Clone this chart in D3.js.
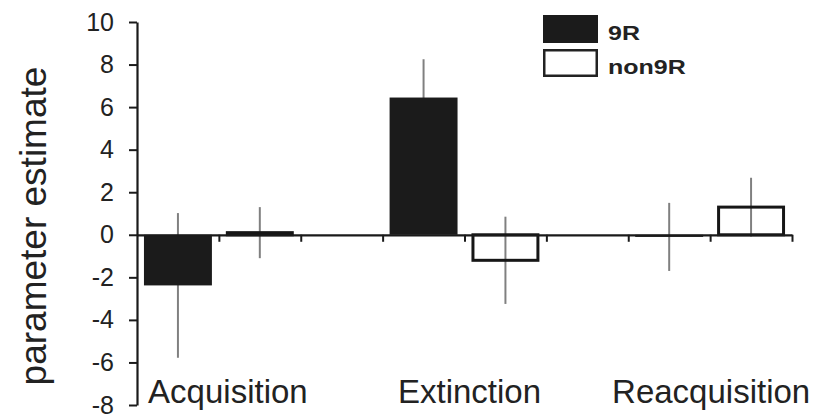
<!DOCTYPE html>
<html>
<head>
<meta charset="utf-8">
<script src="https://cdn.jsdelivr.net/npm/d3@7"></script>
<style>
  html, body { margin: 0; padding: 0; background: #fff; }
  svg { display: block; font-family: "Liberation Sans", Arial, sans-serif; }
</style>
</head>
<body>
<svg id="chart" width="813" height="418"></svg>
<script>
// Parameter estimates per learning phase for the two genotype groups
const categories = ["Acquisition", "Extinction", "Reacquisition"];
const groups = ["9R", "non9R"];
const values9R = [-2.38, 6.45, -0.1];
const valuesNon9R = [0.1, -1.2, 1.3];
const errors9R = [3.4, 1.8, 1.6];
const errorsNon9R = [1.2, 2.05, 1.38];
const yTicks = [-8, -6, -4, -2, 0, 2, 4, 6, 8, 10];
const yTitle = "parameter estimate";

const svg = d3.select("#chart");
const plotLeft = 137, plotRight = 792, plotTop = 22, plotBottom = 405;
// small horizontal nudges for the phase labels under each pair of bars
const labelNudge = [9, 5, 1];

// One slot per bar, with an empty slot separating the phases
const slots = [];
categories.forEach((c, i) => {
  groups.forEach(g => slots.push(c + "|" + g));
  if (i < categories.length - 1) slots.push(c + "|gap");
});

const x = d3.scaleBand().domain(slots).range([plotLeft, plotRight])
  .paddingInner(0.17).paddingOuter(0.085);
const slotIndex = d3.scaleLinear().domain([0, slots.length]).range([plotLeft, plotRight]);
const y = d3.scaleLinear().domain([-8, 10]).range([plotBottom, plotTop]);

const rows = [];
categories.forEach((c, i) => {
  rows.push({ cat: c, group: "9R", value: values9R[i], err: errors9R[i] });
  rows.push({ cat: c, group: "non9R", value: valuesNon9R[i], err: errorsNon9R[i] });
});

// Error bars sit beneath the bars (hidden by solid fill, visible through open bars)
svg.append("g").selectAll("line").data(rows).join("line")
  .attr("x1", d => x(d.cat + "|" + d.group) + x.bandwidth() / 2)
  .attr("x2", d => x(d.cat + "|" + d.group) + x.bandwidth() / 2)
  .attr("y1", d => y(d.value + d.err))
  .attr("y2", d => y(d.value - d.err))
  .attr("stroke", "#808080")
  .attr("stroke-width", 2);

// Bars
svg.append("g").selectAll("rect").data(rows).join("rect")
  .attr("x", d => x(d.cat + "|" + d.group) + (d.group === "9R" ? 0 : 1.5))
  .attr("width", d => x.bandwidth() - (d.group === "9R" ? 0 : 3))
  .attr("y", d => y(Math.max(0, d.value)))
  .attr("height", d => Math.abs(y(d.value) - y(0)))
  .attr("fill", d => d.group === "9R" ? "#1b1b1b" : "none")
  .attr("stroke", d => d.group === "9R" ? "none" : "#161616")
  .attr("stroke-width", 3);

// Horizontal axis through zero with ticks at slot boundaries
const xAxis = svg.append("g")
  .attr("transform", `translate(0,${y(0)})`)
  .call(d3.axisBottom(slotIndex)
    .tickValues(d3.range(1, slots.length + 1))
    .tickFormat("")
    .tickSize(7)
    .tickSizeOuter(0));
xAxis.select(".domain").attr("stroke", "#1a1a1a").attr("stroke-width", 2.2);
xAxis.selectAll(".tick line").attr("stroke", "#1a1a1a").attr("stroke-width", 2);

// Vertical axis
const yAxis = svg.append("g")
  .attr("transform", `translate(${plotLeft},0)`)
  .call(d3.axisLeft(y)
    .tickValues(yTicks)
    .tickFormat(d => String(d))
    .tickSize(8)
    .tickSizeOuter(0)
    .tickPadding(15));
yAxis.select(".domain").attr("stroke", "#1a1a1a").attr("stroke-width", 2.2);
yAxis.selectAll(".tick line").attr("stroke", "#1a1a1a").attr("stroke-width", 2);
yAxis.selectAll(".tick text")
  .attr("font-size", 25)
  .attr("fill", "#222")
  .attr("font-family", "'Liberation Sans', Arial, sans-serif");

// Axis title
svg.append("text")
  .attr("transform", `translate(46,226) rotate(-90)`)
  .attr("text-anchor", "middle")
  .attr("font-size", 37)
  .attr("fill", "#222")
  .text(yTitle);

// Phase labels centred under each pair of bars
svg.append("g").selectAll("text").data(categories).join("text")
  .attr("transform", (c, i) => {
    const cx = x(c + "|non9R") - (x.step() - x.bandwidth()) / 2 + labelNudge[i];
    return `translate(${cx},403)`;
  })
  .attr("text-anchor", "middle")
  .attr("font-size", 33)
  .attr("fill", "#222")
  .text(c => c);

// Legend
const legend = svg.append("g").attr("transform", "translate(543,15)");
groups.forEach((g, i) => {
  const row = legend.append("g").attr("transform", `translate(0,${i * 34})`);
  row.append("rect")
    .attr("x", i === 0 ? 0 : 1.25).attr("y", i === 0 ? 0 : 1.25)
    .attr("width", i === 0 ? 55 : 52.5).attr("height", i === 0 ? 28 : 25.5)
    .attr("fill", i === 0 ? "#1b1b1b" : "#fff")
    .attr("stroke", i === 0 ? "none" : "#222")
    .attr("stroke-width", 2.5);
  row.append("text")
    .attr("transform", "translate(65,25) scale(1.25,1)")
    .attr("font-size", 20)
    .attr("font-weight", "bold")
    .attr("fill", "#222")
    .text(g);
});
</script>
</body>
</html>
